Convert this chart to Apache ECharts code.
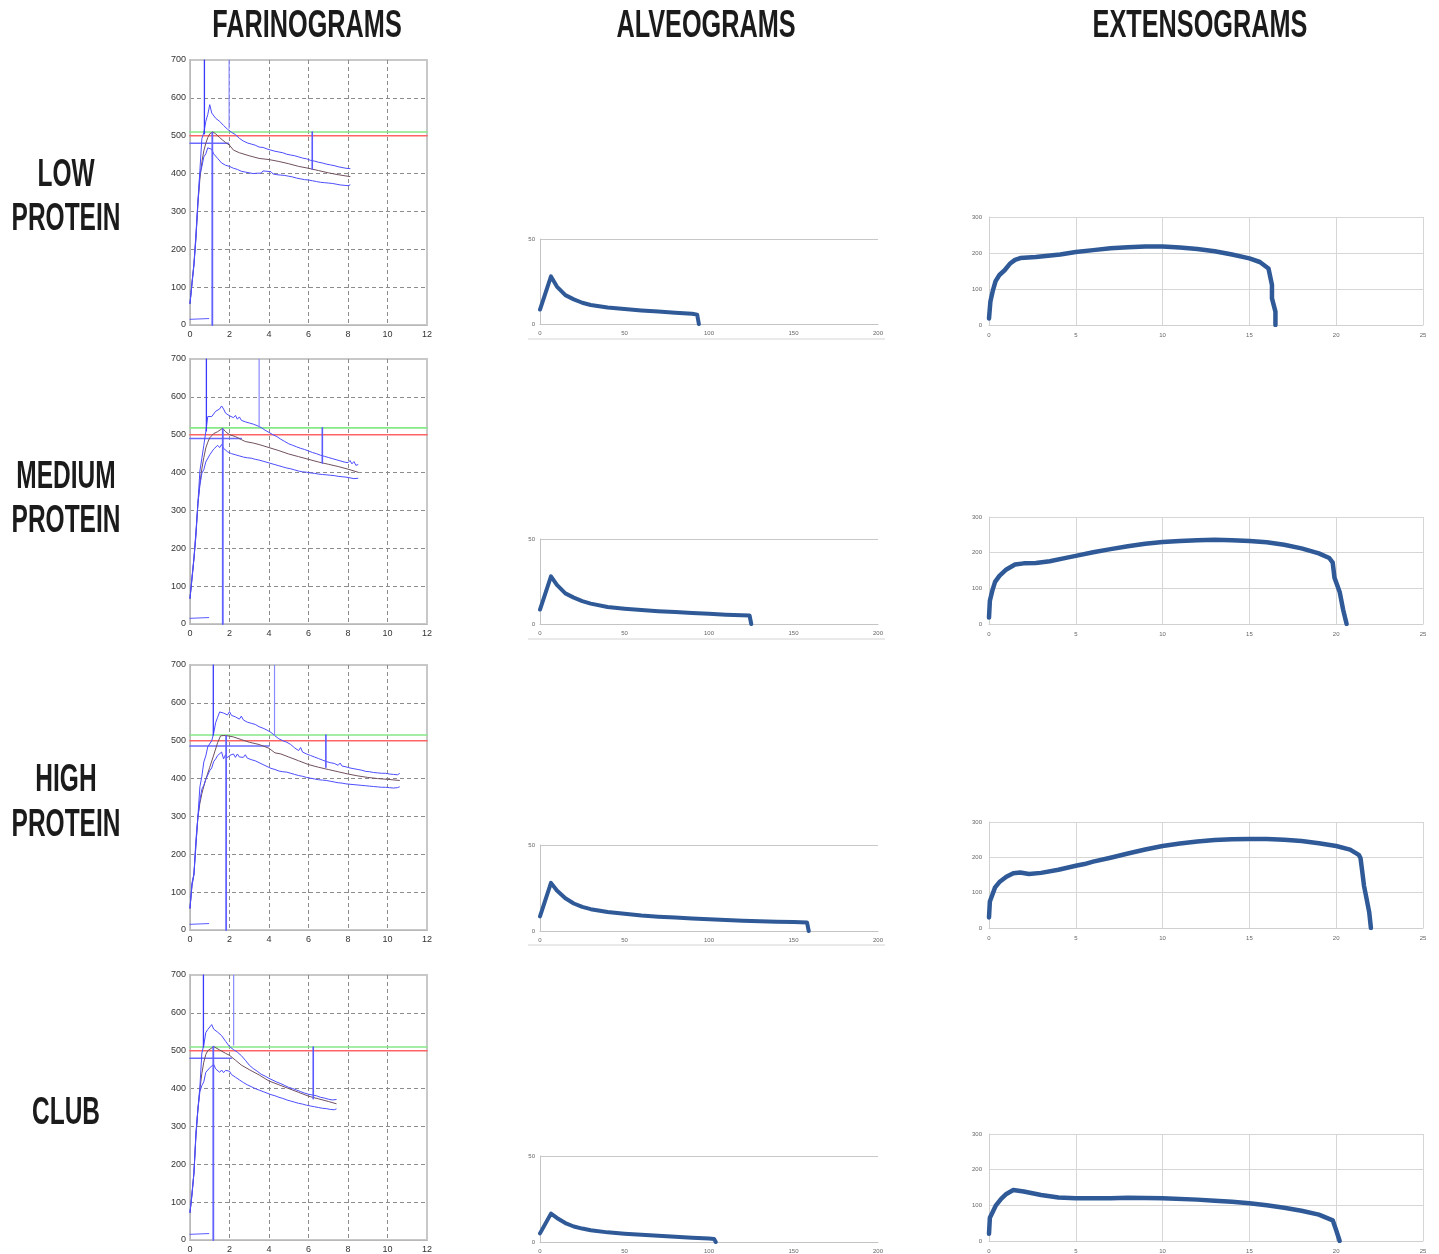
<!DOCTYPE html>
<html><head><meta charset="utf-8">
<script src="https://cdn.jsdelivr.net/npm/echarts@6/dist/echarts.min.js"></script>
<style>html,body{margin:0;padding:0;background:#fff}#c{width:1439px;height:1254px}</style>
</head><body><div id="c"></div>
<script>
// ---------- text ----------
const columnTitles = ['FARINOGRAMS', 'ALVEOGRAMS', 'EXTENSOGRAMS'];
const rowLabels = [['LOW', 'PROTEIN'], ['MEDIUM', 'PROTEIN'], ['HIGH', 'PROTEIN'], ['CLUB']];

// ---------- farinograms (time in min, BU) ----------
const farStep = 0.1; // sample spacing of the band curves (min)
const farLowTop = [57,112,160,240,326,408,492,508,538,556,582,560,557,546,550,538,540,527,530,517,521,
 509,513,503,504,493,497,486,490,481,485,
 478,481,475,478,470,474,469,471,465,469,
 462,467,459,464,457,461,455,458,451,455,
 449,453,447,450,444,447,441,445,439,442,
 435,440,433,437,430,434,428,431,425,429,
 423,427,421,425,418,422,416,420,414,417,413];
const farLowBottom = [57,108,158,226,322,398,418,444,452,468,466,464,452,453,440,439,428,431,422,426,419,
 422,414,417,411,413,406,410,404,408,402,
 406,400,405,401,406,401,407,402,406,401,
 405,399,403,397,402,396,401,395,399,393,
 397,391,394,388,392,386,390,384,388,383,
 387,381,385,379,383,377,381,376,380,375,
 379,374,377,372,376,370,374,369,372,368,370];
const farLowMid = [[0,57],[0.1,110],[0.2,162],[0.3,232],[0.4,320],[0.5,385],[0.6,430],[0.7,460],[0.8,480],[0.9,495],[1.0,505],[1.15,510],[1.3,505],[1.5,495],[1.8,482],[2.0,475],[2.2,462],[2.5,455],[3,447],[3.5,440],[4,437],[4.5,432],[5,426],[5.5,419],[6,414],[6.5,408],[7,402],[7.5,397],[8.1,392]];
const farLowRefs = [510, 500, 480, 1.95];            // green level, red level, blue level, blue end
const farLowVerticals = [[0.73,505,700],[1.98,520,700],[1.13,0,508],[6.19,412,510]];

const farMedTop = [68,124,175,244,318,404,438,472,508,548,550,548,553,562,560,568,576,568,557,559,550,
 553,545,551,541,547,538,542,534,538,531,
 535,528,531,524,527,519,522,512,514,506,
 508,500,503,495,497,488,491,482,485,476,
 479,472,475,468,471,464,468,461,464,457,
 461,453,458,450,453,446,451,443,448,440,
 445,437,442,434,439,431,436,428,433,426,
 432,423,429,419,421];
const farMedBottom = [68,118,172,232,318,366,398,408,428,432,447,450,462,464,472,466,474,464,462,455,457,
 450,453,447,450,444,448,441,445,439,442,
 438,440,435,438,433,436,430,432,427,430,
 424,428,421,425,418,422,415,419,412,416,
 410,414,407,411,404,409,402,406,401,405,
 399,403,398,402,396,401,395,399,394,398,
 393,397,392,396,390,394,389,393,388,391,
 386,390,384,387,385];
const farMedMid = [[0,68],[0.1,120],[0.2,172],[0.3,238],[0.4,318],[0.5,372],[0.6,410],[0.7,440],[0.8,465],[0.9,480],[1.0,492],[1.2,503],[1.4,508],[1.65,517],[1.8,508],[2.0,500],[2.3,495],[2.6,487],[2.8,482],[3.2,478],[3.5,474],[4,466],[4.5,458],[5,449],[5.5,442],[6,435],[6.5,428],[7,422],[7.5,416],[8,409],[8.5,401]];
const farMedRefs = [518, 500, 490, 2.6];
const farMedVerticals = [[0.83,510,700],[3.5,520,700],[1.66,0,515],[6.7,425,518]];

const farHighTop = [58,124,148,238,300,378,406,444,460,484,486,500,520,548,562,576,580,573,575,568,577,
 567,571,563,567,557,565,555,559,549,553,
 546,550,543,545,537,541,533,536,528,531,
 522,525,513,514,505,508,500,504,496,499,
 490,493,481,484,474,482,470,474,465,469,
 461,466,457,462,453,457,449,454,445,448,
 442,446,440,443,435,441,433,437,431,434,
 428,433,426,430,424,428,422,425,419,422,
 418,421,416,421,415,419,414,419,414,418,
 412,416,411,415,410,413];
const farHighBottom = [58,116,146,222,298,342,372,382,398,402,421,428,445,452,461,460,470,452,463,455,461,
 459,465,456,465,457,461,456,463,454,456,
 450,454,447,449,442,445,437,440,432,434,
 427,431,424,427,420,424,418,423,417,421,
 414,418,411,415,408,412,406,409,403,407,
 401,405,399,404,397,402,396,400,395,399,
 393,397,391,396,389,394,388,392,386,390,
 385,389,384,388,383,386,382,385,381,385,
 380,384,379,383,378,382,377,381,377,380,
 376,380,375,379,376,378];
const farHighMid = [[0,58],[0.1,120],[0.2,148],[0.3,228],[0.4,298],[0.5,335],[0.6,360],[0.7,380],[0.8,398],[1.0,430],[1.2,462],[1.4,495],[1.55,513],[1.8,514],[2.2,510],[2.6,503],[3,496],[3.5,490],[4,480],[4.3,468],[4.6,465],[5,457],[5.5,447],[6,437],[6.5,430],[7,424],[7.5,418],[8,412],[8.5,407],[9,403],[9.5,400],[10,398],[10.6,395]];
const farHighRefs = [515, 500, 486, 4.0];
const farHighVerticals = [[1.18,515,700],[4.28,515,700],[1.83,0,512],[6.88,430,515]];

const farClubTop = [73,124,176,284,346,404,494,515,548,556,554,569,557,558,549,551,540,537,525,523,511,
 512,503,505,496,497,487,487,475,473,462,
 465,453,455,446,447,438,440,433,435,427,
 431,422,427,417,421,413,416,408,411,403,
 407,400,403,396,400,392,396,388,393,385,
 390,383,387,381,385,377,382,375,379,372,
 377,370,374,371];
const farClubBottom = [73,118,178,272,344,392,408,418,443,446,455,453,464,452,453,443,449,442,448,443,446,
 437,440,430,433,423,425,416,419,410,412,
 405,408,400,404,396,400,392,396,388,392,
 384,389,381,385,377,382,374,378,370,374,
 367,371,364,369,361,366,359,364,356,361,
 354,359,352,357,350,355,348,353,347,352,
 345,350,344,346];
const farClubMid = [[0,73],[0.1,121],[0.2,178],[0.3,278],[0.4,345],[0.5,398],[0.6,440],[0.7,470],[0.8,490],[0.9,500],[1.0,505],[1.2,511],[1.5,502],[1.8,493],[2.0,488],[2.3,475],[2.6,462],[3,450],[3.5,436],[4,420],[4.5,410],[5,400],[5.5,390],[6,380],[6.2,377],[6.5,373],[7,366],[7.4,360]];
const farClubRefs = [510, 500, 480, 2.1];
const farClubVerticals = [[0.68,510,700],[2.21,515,700],[1.18,0,511],[6.24,373,510]];

const farBaseline = [[0,15],[0.95,17]];

// ---------- alveograms (x, pressure) ----------
const alvLow = [[0,8.5],[6.5,28],[10,22],[15,17],[20,14.5],[25,12.5],[30,11.2],[40,9.7],[50,8.8],[60,8],[70,7.3],[80,6.6],[90,6],[93,5.5],[94,0]];
const alvMed = [[0,8.5],[6.5,28],[10,23],[15,18],[20,15.5],[25,13.5],[30,12],[40,10],[50,9],[60,8.2],[70,7.5],[80,7],[90,6.5],[100,6],[110,5.5],[124,5],[125,0]];
const alvHigh = [[0,8.5],[6.5,28],[10,23.5],[15,19],[20,16],[25,14],[30,12.7],[40,11],[50,10],[60,9],[70,8.3],[80,7.8],[90,7.2],[100,6.8],[110,6.4],[120,6],[130,5.7],[140,5.4],[150,5.2],[158,5],[159,0]];
const alvClub = [[0,5],[6.5,16.5],[10,14],[15,11],[20,9],[25,7.8],[30,6.8],[40,5.6],[50,4.8],[60,4.2],[70,3.6],[80,3],[90,2.5],[100,2],[103,1.8],[104,0]];

// ---------- extensograms (x, resistance) ----------
const extLow = [[0,18],[0.08,65],[0.23,97],[0.38,122],[0.6,139],[0.9,152],[1.2,170],[1.5,181],[1.8,186],[2.7,189],[4.1,196],[5,203],[6,208],[7,213],[8,216],[9,218],[10,218],[11,215],[12,211],[13,205],[14,196],[15,185],[15.6,175],[16.1,157],[16.3,111],[16.3,74],[16.5,37],[16.5,0]];
const extMed = [[0,18],[0.05,65],[0.2,95],[0.35,118],[0.6,135],[1,153],[1.5,167],[2,170],[2.7,171],[3.5,176],[4.5,186],[5,191],[6,201],[7,210],[8,218],[9,225],[10,230],[11,233],[12,235],[13,236],[14,235],[15,233],[16,229],[17,222],[18,212],[19,198],[19.6,185],[19.8,172],[19.9,130],[20.2,90],[20.4,40],[20.6,0]];
const extHigh = [[0,30],[0.05,75],[0.2,95],[0.35,115],[0.6,130],[1,145],[1.4,155],[1.8,157],[2.3,153],[3,156],[4,165],[5,176],[5.5,181],[6,188],[7,199],[8,211],[9,222],[10,232],[11,239],[12,245],[13,249],[14,251],[15,252],[16,252],[17,250],[18,246],[19,240],[20,232],[20.8,222],[21.3,207],[21.4,198],[21.5,160],[21.6,120],[21.7,95],[21.9,45],[22,0]];
const extClub = [[0,20],[0.05,65],[0.2,80],[0.4,100],[0.7,118],[1,132],[1.4,143],[2,139],[3,129],[4,122],[5,120],[7,120],[8,121],[10,120],[12,116],[13,113],[14,110],[15,106],[16,100],[17,93],[18,85],[19,74],[19.8,58],[20,30],[20.2,0]];

// ---------- build ----------
const farData = [
  [farLowTop, farLowBottom, farLowMid, farLowRefs, farLowVerticals],
  [farMedTop, farMedBottom, farMedMid, farMedRefs, farMedVerticals],
  [farHighTop, farHighBottom, farHighMid, farHighRefs, farHighVerticals],
  [farClubTop, farClubBottom, farClubMid, farClubRefs, farClubVerticals]
];
const alvData = [alvLow, alvMed, alvHigh, alvClub];
const extData = [extLow, extMed, extHigh, extClub];

const farBox = [[60,265],[359,265],[665,265],[975,266]];
const alvBox = [[239,85],[539,85],[845,86],[1156,86]];
const extBox = [[217,108],[517,107],[822,106],[1134,108]];

const grids = [], xAxes = [], yAxes = [], series = [];
function addGrid(g, xa, ya) {
  const i = grids.length;
  grids.push(g); xa.gridIndex = i; ya.gridIndex = i;
  xAxes.push(xa); yAxes.push(ya);
  return i;
}
function addLine(i, data, color, width, z) {
  series.push({
    type: 'line', xAxisIndex: i, yAxisIndex: i, data: data,
    showSymbol: false, symbol: 'none', silent: true, animation: false,
    lineStyle: { color: color, width: width, join: 'round', cap: 'round' },
    itemStyle: { color: color }, z: z
  });
}
const farLabel = { fontSize: 9, color: '#333', fontFamily: 'Liberation Sans' };
const smallLabel = { fontSize: 6, color: '#666', fontFamily: 'Liberation Sans' };

farData.forEach((f, r) => {
  const dashed = { show: true, showMaxLine: false, showMinLine: false, lineStyle: { type: [4, 3], color: '#8c8c8c', width: 1 } };
  const i = addGrid(
    { left: 190, top: farBox[r][0], width: 237, height: farBox[r][1], show: true, borderColor: '#c8c8c8', borderWidth: 2 },
    { type: 'value', min: 0, max: 12, interval: 2, axisLine: { show: true, onZero: false, lineStyle: { color: '#b8b8b8' } }, axisTick: { show: false }, axisLabel: Object.assign({ margin: 5 }, farLabel), splitLine: dashed },
    { type: 'value', min: 0, max: 700, interval: 100, axisLine: { show: true, onZero: false, lineStyle: { color: '#b8b8b8' } }, axisTick: { show: false }, axisLabel: Object.assign({ margin: 4 }, farLabel), splitLine: dashed }
  );
  const toXY = arr => arr.map((v, k) => [Math.round(k * farStep * 100) / 100, v]);
  const refs = f[3];
  addLine(i, [[0, refs[0]], [12, refs[0]]], '#86e886', 1.6, 2);
  addLine(i, [[0, refs[1]], [12, refs[1]]], '#ff6464', 1.6, 2);
  addLine(i, [[0, refs[2]], [refs[3], refs[2]]], '#6a6aff', 1.6, 2);
  addLine(i, farBaseline, '#5a5aff', 1, 3);
  addLine(i, f[2], '#70505f', 1, 3);
  addLine(i, toXY(f[0]), '#4c4cff', 1, 4);
  addLine(i, toXY(f[1]), '#4c4cff', 1, 4);
  const vStyles = [['#3a3aff', 1.3], ['#8a8aff', 1.2], ['#6262ff', 1.8], ['#5a5aff', 1.6]];
  f[4].forEach((v, k) => addLine(i, [[v[0], v[1]], [v[0], v[2]]], vStyles[k][0], vStyles[k][1], 5));
});

alvData.forEach((d, r) => {
  const i = addGrid(
    { left: 540, top: alvBox[r][0], width: 338, height: alvBox[r][1], show: false },
    { type: 'value', min: 0, max: 200, interval: 50, axisLine: { show: true, onZero: false, lineStyle: { color: '#c4c4c4' } }, axisTick: { show: false }, axisLabel: Object.assign({ margin: 6 }, smallLabel), splitLine: { show: false } },
    { type: 'value', min: 0, max: 50, interval: 50, axisLine: { show: true, onZero: false, lineStyle: { color: '#c4c4c4' } }, axisTick: { show: false }, axisLabel: Object.assign({ margin: 5 }, smallLabel), splitLine: { show: true, lineStyle: { color: '#c8c8c8', width: 1 } } }
  );
  addLine(i, d, '#2f5a97', 4, 4);
});

extData.forEach((d, r) => {
  const grid = { show: true, lineStyle: { color: '#d6d6d6', width: 1 } };
  const i = addGrid(
    { left: 989, top: extBox[r][0], width: 434, height: extBox[r][1], show: false },
    { type: 'value', min: 0, max: 25, interval: 5, axisLine: { show: true, onZero: false, lineStyle: { color: '#d0d0d0' } }, axisTick: { show: false }, axisLabel: Object.assign({ margin: 7 }, smallLabel), splitLine: grid },
    { type: 'value', min: 0, max: 300, interval: 100, axisLine: { show: true, onZero: false, lineStyle: { color: '#d0d0d0' } }, axisTick: { show: false }, axisLabel: Object.assign({ margin: 7 }, smallLabel), splitLine: grid }
  );
  addLine(i, d, '#2f5a97', 4.5, 4);
});

// ---------- text & frame decoration ----------
const headFont = 'bold 38px "Liberation Sans", Arial, sans-serif';
function bigText(text, x, y, sx) {
  return { type: 'text', x: x, y: y, scaleX: sx, silent: true, z: 10,
    style: { text: text, font: headFont, fill: '#1b1b1b', textAlign: 'center', textVerticalAlign: 'middle', align: 'center', verticalAlign: 'middle' } };
}
const graphics = [];
const headX = [307, 706, 1200];
columnTitles.forEach((t, k) => graphics.push(bigText(t, headX[k], 27, 0.665)));
const rowY = [[176, 220], [478, 522], [781, 826], [1114]];
rowLabels.forEach((lines, r) => lines.forEach((t, k) => graphics.push(bigText(t, 66, rowY[r][k], 0.645))));
[339, 639, 945].forEach(y => graphics.push({ type: 'line', silent: true, shape: { x1: 528, y1: y, x2: 885, y2: y }, style: { stroke: '#d4d4d4', lineWidth: 1 } }));

const chart = echarts.init(document.getElementById('c'), null, { renderer: 'canvas' });
chart.setOption({
  backgroundColor: '#ffffff',
  animation: false,
  grid: grids, xAxis: xAxes, yAxis: yAxes, series: series,
  graphic: graphics
});
</script></body></html>
